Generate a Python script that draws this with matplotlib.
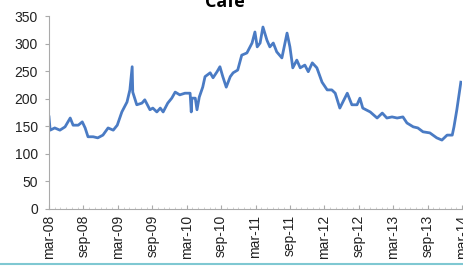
import matplotlib
matplotlib.use("Agg")
import matplotlib.pyplot as plt
from matplotlib.ticker import MultipleLocator
from matplotlib.lines import Line2D

# months elapsed since March 2008
months = [0.0, 0.2, 1.0, 1.9, 2.8, 3.7, 4.2, 5.1, 5.8, 6.3, 6.8, 7.7, 8.5, 9.4, 10.3,
          11.2, 11.9, 12.7, 13.6, 14.1, 14.5, 14.6, 15.3, 16.2, 16.7, 17.6, 18.1, 18.8,
          19.4, 19.9, 20.7, 21.4, 22.0, 22.8, 23.7, 24.6, 24.8, 24.9, 25.5, 25.8, 26.2,
          26.8, 27.2, 28.1, 28.6, 29.3, 29.8, 30.3, 30.9, 31.6, 32.1, 32.9, 33.6, 34.5,
          35.4, 35.9, 36.3, 36.8, 37.3, 38.0, 38.5, 39.1, 39.7, 40.6, 41.5, 42.0, 42.5,
          43.2, 43.8, 44.6, 45.2, 45.9, 46.7, 47.6, 48.5, 49.3, 49.9, 50.7, 52.0, 52.8,
          53.7, 54.2, 54.7, 56.0, 57.2, 58.1, 58.9, 59.8, 60.7, 61.7, 62.4, 63.5, 64.3,
          65.2, 66.4, 67.6, 68.5, 69.4, 70.3, 70.6, 71.1, 71.8]
values = [167, 143, 147, 143, 149, 165, 152, 152, 158, 147, 131, 131, 129, 134, 147,
          143, 152, 176, 194, 216, 258, 212, 189, 192, 198, 180, 183, 176,
          183, 176, 192, 201, 212, 207, 210, 210, 176, 201, 201, 180, 203,
          221, 240, 247, 238, 249, 258, 240, 221, 240, 247, 252, 279, 283,
          301, 321, 294, 301, 330, 306, 294, 301, 285, 274, 319, 294, 256,
          270, 256, 261, 249, 265, 256, 230, 216, 216, 210, 183, 210, 189,
          189, 201, 183, 176, 165, 174, 165, 167, 165, 167, 156, 149, 147,
          140, 138, 129, 125, 134, 134, 149, 180, 230]

tick_labels = ["mar-08", "sep-08", "mar-09", "sep-09", "mar-10", "sep-10", "mar-11", "sep-11",
               "mar-12", "sep-12", "mar-13", "sep-13", "mar-14"]
y_ticks = [0, 50, 100, 150, 200, 250, 300, 350]
title = "Café"

plt.rcParams['font.family'] = ['Liberation Sans', 'DejaVu Sans']

W, H = 463, 266
fig = plt.figure(figsize=(W / 100, H / 100), dpi=100)
fig.patch.set_facecolor("white")
ax = fig.add_axes([49 / W, 1 - 209 / H, (462 - 49) / W, (209 - 16) / H])

ax.plot(months, values, color="#4a7bc4", lw=2.0, solid_joinstyle="round")

tick_pos = [6 * i for i in range(len(tick_labels))]
ax.set_xlim(tick_pos[0], tick_pos[-1])
ax.set_ylim(0, 350)
ax.set_xticks(tick_pos)
ax.set_xticklabels(tick_labels, rotation=90, fontsize=10, color="#222222")
ax.set_yticks(y_ticks)
ax.set_yticklabels([str(v) for v in y_ticks], fontsize=10, color="#222222")
ax.xaxis.set_minor_locator(MultipleLocator(1))
ax.tick_params(axis="x", which="major", direction="in", length=3, color="#aaaaaa", pad=4)
ax.tick_params(axis="x", which="minor", direction="in", length=1.5, color="#cccccc")
ax.tick_params(axis="y", direction="out", length=3, color="#aaaaaa", pad=5)

for s in ["top", "right"]:
    ax.spines[s].set_visible(False)
for s in ["left", "bottom"]:
    ax.spines[s].set_color("#aaaaaa")
    ax.spines[s].set_linewidth(0.8)

fig.text(225 / W, 1 - 7 / H, title, ha="center", va="baseline", fontsize=13,
         fontweight="bold", family=["Open Sans", "DejaVu Sans"])

fig.add_artist(Line2D([0, 1], [1 - 263.5 / H, 1 - 263.5 / H], transform=fig.transFigure,
                      color="#7fc8d2", lw=1.5))

fig.savefig("out.png", dpi=100, facecolor="white")
